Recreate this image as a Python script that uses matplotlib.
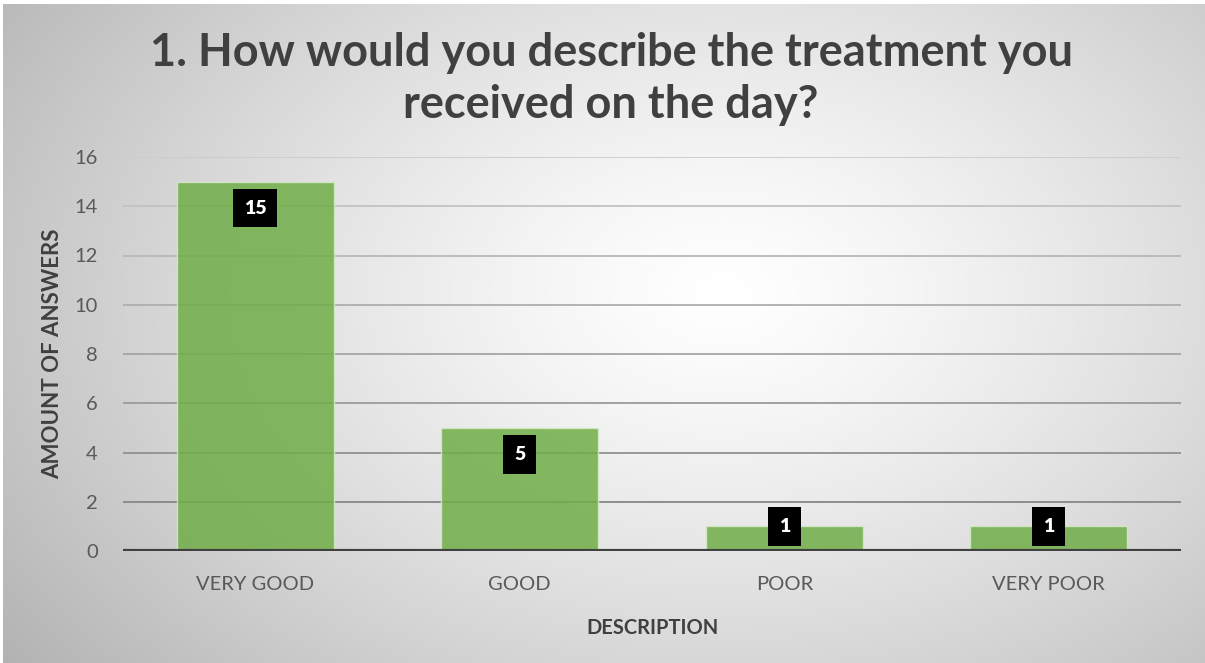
"""Survey chart: treatment description counts, Excel-style bar chart."""
import matplotlib

matplotlib.use("Agg")
import matplotlib.pyplot as plt
import numpy as np

plt.rcParams["font.family"] = ["Lato", "DejaVu Sans"]

# data
categories = ["VERY GOOD", "GOOD", "POOR", "VERY POOR"]
answers = [15, 5, 1, 1]
y_ticks = [0, 2, 4, 6, 8, 10, 12, 14, 16]

title = "1. How would you describe the treatment you\nreceived on the day?"
x_label = "DESCRIPTION"
y_label = "AMOUNT OF ANSWERS"

W, H = 1205, 663
fig = plt.figure(figsize=(W / 100, H / 100), dpi=100)
fig.patch.set_facecolor("white")

# radial gradient background (white centre, grey edges)
bg = fig.add_axes([3 / W, 0, 1 - 3 / W, 1 - 4 / H])
yy, xx = np.mgrid[0:H, 0:W]
cx, cy = 720, 290
r = np.sqrt(((xx - cx) / 760.0) ** 2 + ((yy - cy) / 520.0) ** 2)
shade = np.clip(1.0 - 0.24 * r ** 1.3, 0, 1)
bg.imshow(np.dstack([shade] * 3), aspect="auto", interpolation="bilinear")
bg.set_axis_off()

ax = fig.add_axes([123 / W, 1 - 551 / H, (1181 - 123) / W, (551 - 157) / H])
ax.set_facecolor("none")

x = np.arange(len(categories))
ax.set_xlim(-0.5, len(categories) - 0.5)
ax.set_ylim(0, 16)

# gridlines, darker toward the bottom
for t in y_ticks[1:]:
    g = 0.80 - 0.27 * (16 - t) / 14
    ax.axhline(t, color=(g, g, g), linewidth=1.3, zorder=1)

ax.bar(x, answers, width=0.595, color="#70ad47", alpha=0.85,
       edgecolor="#d6ebc8", linewidth=1.0, zorder=2)
ax.axhline(0, color="#404040", linewidth=3.0, zorder=3)

for xi, v in zip(x, answers):
    ly = v - 1.08 if v >= 2 else v
    ax.text(xi, ly, str(v), ha="center", va="center", color="white",
            fontsize=14, fontweight="heavy", zorder=5,
            bbox=dict(boxstyle="square,pad=0.55", facecolor="black",
                      edgecolor="none"))

ax.set_xticks(x)
ax.set_xticklabels(categories)
ax.set_yticks(y_ticks)
ax.tick_params(axis="both", length=0, labelsize=14.5, labelcolor="#595959")
ax.tick_params(axis="x", pad=18)
ax.tick_params(axis="y", pad=18)
for s in ax.spines.values():
    s.set_visible(False)

ax.set_xlabel(x_label, fontsize=14.5, fontweight="bold", color="#404040",
              labelpad=18)
ax.set_ylabel(y_label, fontsize=16, fontweight="bold", color="#404040",
              labelpad=8)

fig.text(611 / W, 1 - 79 / H, title, ha="center", va="center",
         fontsize=32.5, fontweight="bold", color="#404040", linespacing=1.3)

fig.savefig("out.png", dpi=100)
